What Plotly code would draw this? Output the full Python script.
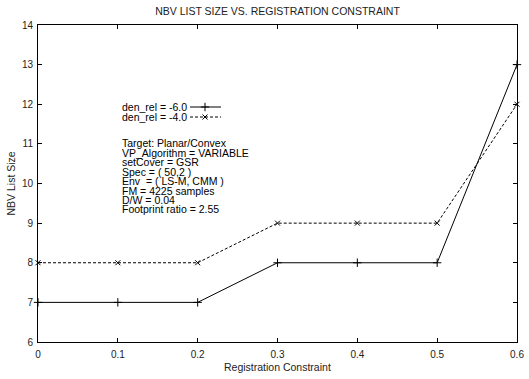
import plotly.graph_objects as go

# Registration constraint values and NBV list sizes per relative density
reg_constraint = [0.0, 0.1, 0.2, 0.3, 0.4, 0.5, 0.6]
nbv_den_m6 = [7, 7, 7, 8, 8, 8, 13]
nbv_den_m4 = [8, 8, 8, 9, 9, 9, 12]

series_names = ["den_rel = -6.0", "den_rel = -4.0"]
info_lines = [
    "Target: Planar/Convex",
    "VP_Algorithm = VARIABLE",
    "setCover = GSR",
    "Spec = ( 50,2 )",
    "Env  = ( LS-M, CMM )",
    "FM = 4225 samples",
    "D/W = 0.04",
    "Footprint ratio = 2.55",
]

FONT = "Liberation Sans, Arial, Helvetica, sans-serif"
W, H = 529, 379
L, R, T, B = 38, 12, 25, 37
PW, PH = W - L - R, H - T - B


def px_x(px):
    return (px - L) / PW


def px_y(py):
    return (H - B - py) / PH


fig = go.Figure()

fig.add_trace(go.Scatter(
    x=reg_constraint, y=nbv_den_m6, mode="lines+markers", name=series_names[0],
    line=dict(color="black", width=1),
    marker=dict(symbol="cross-thin", size=6, line=dict(color="black", width=1)),
    cliponaxis=False, showlegend=False,
))
fig.add_trace(go.Scatter(
    x=reg_constraint, y=nbv_den_m4, mode="lines+markers", name=series_names[1],
    line=dict(color="black", width=1, dash="3px,2px"),
    marker=dict(symbol="x-thin", size=5, line=dict(color="black", width=1)),
    cliponaxis=False, showlegend=False,
))

# Key: label on the left, line sample on the right
key_rows = [(107, "solid", "cross-thin", 6), (117, "3px,2px", "x-thin", 5)]
for name, (py, dash, sym, sz) in zip(series_names, key_rows):
    fig.add_trace(go.Scatter(
        x=[px_x(190), px_x(221)], y=[px_y(py), px_y(py)], mode="lines",
        line=dict(color="black", width=1, dash=dash),
        xaxis="x2", yaxis="y2", showlegend=False, hoverinfo="skip",
    ))
    fig.add_trace(go.Scatter(
        x=[px_x(205)], y=[px_y(py)], mode="markers",
        marker=dict(symbol=sym, size=sz, line=dict(color="black", width=1)),
        xaxis="x2", yaxis="y2", showlegend=False, hoverinfo="skip",
    ))
    fig.add_annotation(
        x=px_x(120), y=px_y(py), xref="paper", yref="paper", text=name,
        showarrow=False, xanchor="left", yanchor="middle",
        font=dict(family=FONT, size=10.5, color="black"),
    )

for i, line in enumerate(info_lines):
    fig.add_annotation(
        x=px_x(120), y=px_y(143 + 9.5 * i), xref="paper", yref="paper",
        text=line, showarrow=False, xanchor="left", yanchor="middle",
        font=dict(family=FONT, size=10.5, color="black"),
    )

# Axis titles placed just outside the frame
fig.add_annotation(
    x=0.5, y=px_y(367), xref="paper", yref="paper",
    text="Registration Constraint", showarrow=False,
    xanchor="center", yanchor="middle",
    font=dict(family=FONT, size=10.5, color="#222"),
)
fig.add_annotation(
    x=px_x(10), y=0.5, xref="paper", yref="paper",
    text="NBV List Size", showarrow=False, textangle=-90,
    xanchor="center", yanchor="middle",
    font=dict(family=FONT, size=10.5, color="#222"),
)

axis_common = dict(
    showline=True, linecolor="black", linewidth=1, mirror="ticks",
    ticks="inside", ticklen=4, tickcolor="black", tickwidth=1,
    showgrid=False, zeroline=False, automargin=False,
    tickfont=dict(family=FONT, size=10, color="#222"),
)

fig.update_layout(
    width=W, height=H,
    margin=dict(l=L, r=R, t=T, b=B, autoexpand=False),
    paper_bgcolor="white", plot_bgcolor="white",
    font=dict(family=FONT, size=10, color="black"),
    title=dict(text="NBV LIST SIZE VS. REGISTRATION CONSTRAINT",
               x=0.5, xref="paper", xanchor="center",
               y=1 - 11 / H, yref="container", yanchor="middle",
               font=dict(family=FONT, size=10.5, color="#222")),
    xaxis=dict(range=[0, 0.6], dtick=0.1, tick0=0, ticklabelstandoff=3,
               **axis_common),
    yaxis=dict(range=[6, 14], dtick=1, tick0=6, ticklabelstandoff=2,
               **axis_common),
    xaxis2=dict(overlaying="x", range=[0, 1], visible=False, fixedrange=True),
    yaxis2=dict(overlaying="y", range=[0, 1], visible=False, fixedrange=True),
)

fig.write_html("out.html")
